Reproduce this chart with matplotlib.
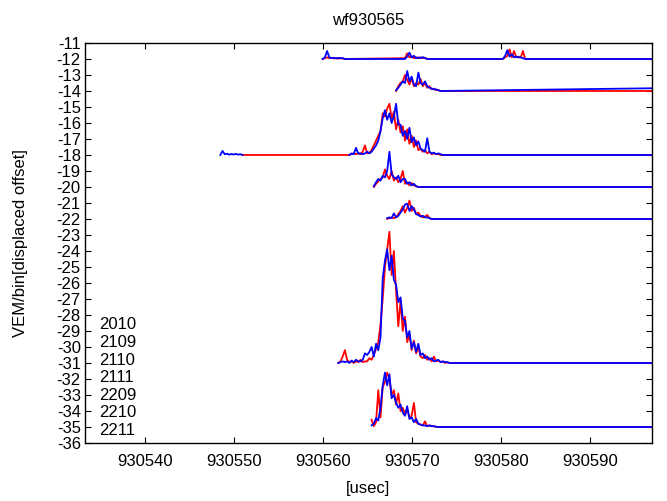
import numpy as np
import matplotlib.pyplot as plt

plt.rcParams['font.family'] = ['Liberation Sans', 'DejaVu Sans']
plt.rcParams['axes.unicode_minus'] = False

# station names (key text) and the displaced offset of each trace
stations = ["2010", "2109", "2110", "2111", "2209", "2210", "2211"]
offsets = [-12, -14, -18, -20, -22, -31, -35]
dt = 0.25          # usec between samples
t_end = 930597.0   # traces run flat to here

# 2010 (offset -12): three small bursts
t0_red_2010 = [930560.0, 930569.25, 930580.25]
red_2010 = [[0, 0.05, 0.1, 0.05, 0.08, 0.03, 0.06, 0.02, 0.05, 0.03, 0],
            [0.05, 0.35, 0.1, 0.15, 0.05, 0.1, 0.05, 0.1, 0.05, 0.08, 0],
            [0, 0.1, 0.2, 0.6, 0.1, 0.5, 0.1, 0.15, 0.1, 0.5, 0]]
t0_blue_2010 = [930560.0, 930569.25, 930580.25]
blue_2010 = [[0, 0.1, 0.5, 0.1, 0.05, 0.08, 0.03, 0.07, 0.04, 0.06, 0],
             [0, 0.15, 0.4, 0.1, 0.2, 0.05, 0.1, 0.05, 0.12, 0.05, 0],
             [0, 0.2, 0.55, 0.15, 0.3, 0.1, 0.15, 0.1, 0.1, 0.05, 0]]
end_2010 = [0.0, 0.0]

# 2109 (offset -14)
t0_red_2109 = [930568.25]
red_2109 = [[0, 0.3, 0.5, 0.6, 1.0, 0.7, 0.4, 0.8, 0.3, 0.5, 0.4, 0.75, 0.3, 0.5,
             0.2, 0.3, 0.1, 0.15, 0.05, 0.05, 0]]
t0_blue_2109 = [930568.25]
blue_2109 = [[0.05, 0.2, 0.4, 0.6, 0.5, 1.25, 0.6, 0.9, 0.4, 0.3, 1.15, 0.5, 0.4, 0.6,
              0.3, 0.2, 0.15, 0.1, 0.1, 0.05, 0]]
end_2109 = [0.0, 0.17]

# 2110 (offset -18): early blue noise, then main burst
t0_red_2110 = [930551.0, 930563.0]
red_2110 = [[0],
            [0, 0.05, 0.1, 0.05, 0.1, 0.05, 0.2, 0.6, 0.1, 0.15, 0.3, 0.6, 0.9, 1.2,
             1.5, 2.6, 2.4, 2.9, 3.2, 2.3, 2.7, 1.6, 2.2, 1.4, 1.8, 0.9, 1.6, 0.7,
             1.2, 0.5, 0.9, 0.3, 0.4, 0.2, 0.3, 0.1, 0.2, 0.05, 0.1, 0.05, 0.05, 0, 0]]
t0_blue_2110 = [930548.5, 930563.0]
blue_2110 = [[0, 0.25, 0.05, 0.08, 0.02, 0.06, 0.03, 0.07, 0.02, 0.05, 0, np.nan],
             [0, 0.1, 0.05, 0.45, 0.1, 0.1, 0.05, 0.1, 0.2, 0.1, 0.2, 0.4, 0.6, 0.9,
              1.5, 2.3, 2.8, 2.2, 2.6, 2.0, 2.4, 3.2, 1.9, 1.9, 1.2, 1.5, 1.0, 1.7,
              0.8, 1.1, 0.6, 0.85, 0.4, 0.3, 0.2, 1.05, 0.2, 0.1, 0.15, 0.05, 0.1, 0.05, 0]]
end_2110 = [0.0, 0.0]

# 2111 (offset -20)
t0_red_2111 = [930565.75]
red_2111 = [[0, 0.2, 0.35, 0.5, 0.6, 1.1, 0.7, 0.5, 1.0, 0.4, 0.6, 0.3, 0.5, 1.0,
             0.2, 0.3, 0.1, 0.25, 0.1, 0.05, 0]]
t0_blue_2111 = [930565.75]
blue_2111 = [[0.05, 0.3, 0.5, 0.4, 0.7, 0.6, 1.0, 2.2, 0.8, 0.6, 0.5, 0.7, 0.3, 0.5,
              0.5, 0.2, 0.3, 0.1, 0.2, 0.05, 0]]
end_2111 = [0.0, 0.0]

# 2209 (offset -22)
t0_red_2209 = [930567.25]
red_2209 = [[0, 0.05, 0.1, 0.05, 0.1, 0.3, 0.5, 0.8, 0.4, 0.7, 1.15, 0.5, 0.7, 0.3,
             0.4, 0.2, 0.1, 0.15, 0.25, 0.05, 0]]
t0_blue_2209 = [930567.25]
blue_2209 = [[0.05, 0.1, 0.05, 0.35, 0.1, 0.2, 0.4, 0.6, 0.9, 0.95, 0.5, 0.8, 0.6, 0.3,
              0.25, 0.15, 0.2, 0.1, 0.1, 0.05, 0]]
end_2209 = [0.0, 0.0]

# 2210 (offset -31): the big one
t0_red_2210 = [930561.75]
red_2210 = [[0, 0.1, 0.4, 0.8, 0.2, 0.05, 0.1, 0, 0.1, 0.05, 0.2, 0.05, 0.1, 0.1,
             0.3, 0.2, 0.5, 0.9, 1.3, 2.4, 4.0, 6.0, 7.1, 8.2, 5.5, 7.0, 4.5, 2.3,
             3.9, 2.0, 2.9, 1.3, 1.8, 0.8, 1.4, 0.6, 1.0, 0.4, 0.3, 0.5, 0.2, 0.3,
             0.1, 0.4, 0.1, 0.15, 0.05, 0.1, 0, 0.05, 0]]
t0_blue_2210 = [930561.75]
blue_2210 = [[0, 0.05, 0.1, 0.05, 0.1, 0, 0.15, 0.05, 0.2, 0.1, 0.1, 0.2, 0.6, 0.5,
              0.7, 1.0, 0.4, 1.2, 0.8, 1.6, 5.3, 6.4, 7.1, 5.8, 6.7, 5.2, 4.9, 3.8,
              4.1, 2.8, 2.6, 1.6, 2.0, 0.9, 1.3, 0.7, 1.2, 0.5, 0.6, 0.3, 0.4, 0.2,
              0.3, 0.1, 0.15, 0.2, 0.05, 0.1, 0.05, 0.05, 0]]
end_2210 = [0.0, 0.0]

# 2211 (offset -35)
t0_red_2211 = [930565.5]
red_2211 = [[0.45, 0.05, 0.3, 2.3, 0.6, 2.5, 2.8, 3.4, 3.0, 2.0, 2.3, 1.4, 2.1, 1.0,
             1.2, 0.8, 1.1, 0.6, 0.7, 1.5, 0.3, 0.2, 0.15, 0.1, 0.35, 0.05, 0.1,
             0.05, 0.05, 0, 0]]
t0_blue_2211 = [930565.5]
blue_2211 = [[0.1, 0.2, 0.55, 0.4, 1.2, 2.6, 3.4, 2.6, 3.3, 1.8, 2.0, 1.5, 1.2, 1.4,
              0.9, 0.7, 1.3, 0.5, 0.6, 0.3, 0.5, 0.2, 0.15, 0.1, 0.1, 0.05, 0.1,
              0.05, 0.05, 0.02, 0]]
end_2211 = [0.0, 0.0]

red_t0 = [t0_red_2010, t0_red_2109, t0_red_2110, t0_red_2111, t0_red_2209, t0_red_2210, t0_red_2211]
red_segs = [red_2010, red_2109, red_2110, red_2111, red_2209, red_2210, red_2211]
blue_t0 = [t0_blue_2010, t0_blue_2109, t0_blue_2110, t0_blue_2111, t0_blue_2209, t0_blue_2210, t0_blue_2211]
blue_segs = [blue_2010, blue_2109, blue_2110, blue_2111, blue_2209, blue_2210, blue_2211]
ends = [end_2010, end_2109, end_2110, end_2111, end_2209, end_2210, end_2211]


def build(t0s, segs, last):
    xs, ys = [], []
    for t0, seg in zip(t0s, segs):
        xs.extend(t0 + dt * np.arange(len(seg)))
        ys.extend(seg)
    xs.append(t_end)
    ys.append(last)
    return np.array(xs), np.array(ys, dtype=float)


fig = plt.figure(figsize=(6.67, 5.01), dpi=100)
ax = fig.add_axes([0.1274, 0.1158, 0.8501, 0.7984])

for k in range(len(stations)):
    xr, yr = build(red_t0[k], red_segs[k], ends[k][0])
    xb, yb = build(blue_t0[k], blue_segs[k], ends[k][1])
    ax.plot(xr, yr + offsets[k], color="red", lw=1.3)
    ax.plot(xb, yb + offsets[k], color="blue", lw=1.3)

# key: titles only, bottom left
for k, name in enumerate(stations):
    ax.text(0.025, (443 - (325 + 17.6 * k)) / 400, name, transform=ax.transAxes,
            ha="left", va="center", fontsize=12)

ax.set_xlim(930533.3, 930597)
ax.set_ylim(-36, -11)
ax.set_xticks(np.arange(930540, 930591, 10))
ax.set_xticklabels([str(v) for v in range(930540, 930591, 10)])
ax.set_yticks(np.arange(-36, -10, 1))
ax.tick_params(direction="in", top=True, right=True, length=4, width=0.8,
               labelsize=12, pad=3)
ax.tick_params(axis="x", pad=8)
for s in ax.spines.values():
    s.set_linewidth(1.0)

ax.set_title("wf930565", fontsize=12, pad=13)
ax.set_xlabel("[usec]", fontsize=12)
ax.set_ylabel("VEM/bin[displaced offset]", fontsize=12)
ax.xaxis.set_label_coords(0.5, -0.095)
ax.yaxis.set_label_coords(-0.1, 0.5)

fig.savefig("out.png", dpi=100)
